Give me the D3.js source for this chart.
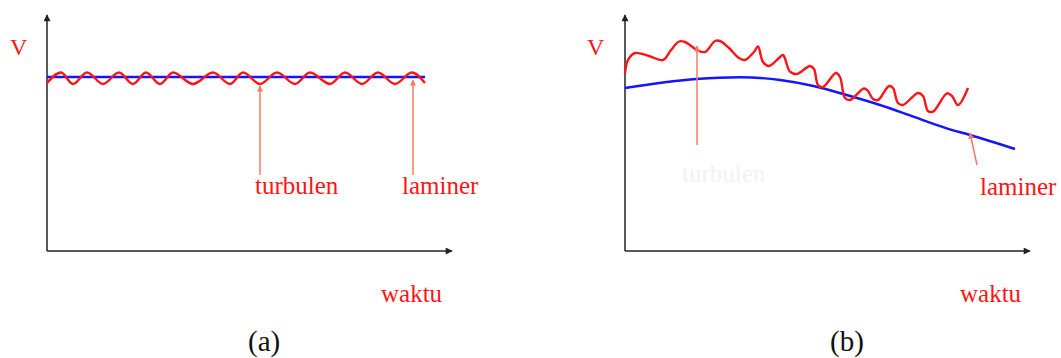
<!DOCTYPE html>
<html lang="id">
<head>
<meta charset="UTF-8">
<title>Aliran laminer dan turbulen</title>
<style>
    body { margin: 0; background: #fff; }
    svg { display: block; }
    .lbl { font-family: "Liberation Serif", "Times New Roman", serif; }
    .axis { stroke: #222; stroke-width: 1.5; fill: none; }
</style>
</head>
<body>
<svg id="chart" width="1061" height="358"></svg>
<script src="https://d3js.org/d3.v7.min.js"></script>
<script>
// (a) steady flow: time (t) and velocity (V) in chart units
const aWaveT = [0, 3.5, 6.5, 10, 14, 18, 21.5, 24.75, 28.25, 31.5, 36.5, 41.5, 45.75, 49,
                53.25, 57.5, 62, 65.75, 70.75, 74.5, 78.75, 82.75, 87, 91.25, 94.5];
const aWaveV = [84, 89.25, 83.5, 89.25, 83.5, 89.25, 83.5, 89.25, 83.5, 89.25, 83.5, 89.25, 83.5, 89.25,
                83.5, 89.25, 83.5, 89.25, 83.5, 89.25, 83.5, 89.25, 83.5, 89.25, 84];
const aMeanT = [0, 94.5];
const aMeanV = [87, 87];

// (b) decaying flow
const bMeanT = [0, 17.9, 28.75, 38.75, 47.1, 55.4, 63.75, 72.1, 80.4, 86.25, 97.5];
const bMeanV = [81.5, 86, 86.85, 85.5, 82.5, 78, 73, 67.15, 61.35, 58, 51];
const bWaveT = [0, 0.75, 2.5, 6, 9.5, 11.5, 13.5, 15, 18, 20, 22.5, 23.75, 26,
                28.5, 30, 32.25, 33.25, 34.5, 36, 38.5, 39.5, 41.25, 43, 46.25,
                47.25, 48.25, 49.5, 52.75, 53.75, 55, 56.25, 59.75, 60.75, 62, 63.25,
                66, 67, 68.25, 69.5, 73.25, 74.5, 75.75, 77, 80.5, 81.75, 83.25, 85.75];
const bWaveV = [89, 95.5, 99, 97.5, 95.5, 100.5, 104.75, 104.5, 100.5, 99.5, 105, 105, 101.5,
                96.5, 95.5, 99.5, 102.25, 94.5, 92.5, 96.5, 98, 89.65, 88.5, 92.5,
                91, 83, 82, 89, 87, 76.5, 75.5, 81.25, 80, 76, 75.5,
                82.5, 81.5, 74, 73, 79, 77.5, 70, 69.65, 78.85, 77.5, 73, 81.5];

// annotation arrows: [t0, V0, t1, V1]
const aArrows = [[53.25, 38, 53.25, 82.5], [91.5, 38, 91.5, 85.5]];
const bArrows = [[18, 53, 18, 102.5], [88, 43, 86.25, 59]];

const svg = d3.select('#chart');
const red = '#ff1414', blue = '#1414ff', pale = '#f57a64';

const defs = svg.append('defs');
function marker(id, color, w, h) {
    defs.append('marker').attr('id', id)
        .attr('viewBox', '0 0 10 10').attr('refX', 9).attr('refY', 5)
        .attr('markerUnits', 'userSpaceOnUse')
        .attr('markerWidth', w).attr('markerHeight', h)
        .attr('orient', 'auto')
        .append('path').attr('d', 'M0,0L10,5L0,10Z').attr('fill', color);
}
marker('axisHead', '#222', 9, 7);
marker('noteHead', pale, 8, 6);

function panel(x0, waveT, waveV, meanT, meanV, arrows, waveCurve) {
    const x = d3.scaleLinear().domain([0, 100]).range([x0, x0 + 400]);
    const y = d3.scaleLinear().domain([0, 118]).range([251, 15]);
    const g = svg.append('g');

    // axes with arrow heads
    g.append('line').attr('class', 'axis')
        .attr('x1', x(0)).attr('y1', y(0)).attr('x2', x(0)).attr('y2', y(118))
        .attr('marker-end', 'url(#axisHead)');
    g.append('line').attr('class', 'axis')
        .attr('x1', x(0)).attr('y1', y(0)).attr('x2', x(101.25)).attr('y2', y(0))
        .attr('marker-end', 'url(#axisHead)');

    const line = d3.line().x(d => x(d[0])).y(d => y(d[1]));

    g.append('path')
        .datum(meanT.map((t, i) => [t, meanV[i]]))
        .attr('d', line.curve(d3.curveMonotoneX)).attr('fill', 'none')
        .attr('stroke', blue).attr('stroke-width', 2.4);

    g.append('path')
        .datum(waveT.map((t, i) => [t, waveV[i]]))
        .attr('d', line.curve(waveCurve)).attr('fill', 'none')
        .attr('stroke', red).attr('stroke-width', 2.4);

    arrows.forEach(a => {
        g.append('line')
            .attr('x1', x(a[0])).attr('y1', y(a[1]))
            .attr('x2', x(a[2])).attr('y2', y(a[3]))
            .attr('stroke', pale).attr('stroke-width', 1.5)
            .attr('marker-end', 'url(#noteHead)');
    });
}

panel(47, aWaveT, aWaveV, aMeanT, aMeanV, aArrows, d3.curveMonotoneX);
panel(625, bWaveT, bWaveV, bMeanT, bMeanV, bArrows, d3.curveCatmullRom.alpha(0.5));

// labels
const labels = [
    { text: 'V', x: 10, y: 55, size: 24, color: red },
    { text: 'V', x: 587, y: 55, size: 24, color: red },
    { text: 'turbulen', x: 255, y: 194, size: 25, color: red },
    { text: 'laminer', x: 402, y: 194, size: 25, color: red },
    { text: 'turbulen', x: 682, y: 182, size: 25, color: '#f2f2f2' },
    { text: 'laminer', x: 980, y: 195, size: 25, color: red },
    { text: 'waktu', x: 381, y: 302, size: 25, color: red },
    { text: 'waktu', x: 960, y: 302, size: 25, color: red },
    { text: '(a)', x: 248, y: 351, size: 29, color: '#111' },
    { text: '(b)', x: 830, y: 351, size: 29, color: '#111' }
];
svg.selectAll('text.lbl').data(labels).enter().append('text')
    .attr('class', 'lbl')
    .attr('x', d => d.x).attr('y', d => d.y)
    .attr('font-size', d => d.size)
    .attr('fill', d => d.color)
    .text(d => d.text);
</script>
</body>
</html>
